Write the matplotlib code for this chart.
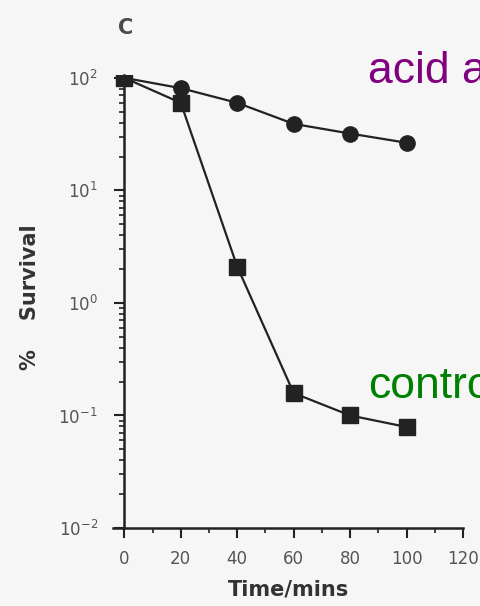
import matplotlib.pyplot as plt
import matplotlib.ticker as mticker

# data
time_mins = [0, 20, 40, 60, 80, 100]
acid_adapted = [100, 81, 60, 39, 32, 26.5]
control = [100, 60, 2.1, 0.158, 0.1, 0.079]
x_ticks = [0, 20, 40, 60, 80, 100, 120]
y_ticks = [1e-2, 1e-1, 1e0, 1e1, 1e2]
y_labels = ['$10^{-2}$', '$10^{-1}$', '$10^{0}$', '$10^{1}$', '$10^{2}$']

bg = '#f6f6f6'
ink = '#222222'
grey = '#555555'

fig = plt.figure(figsize=(4.81, 6.06), dpi=100, facecolor=bg)
ax = fig.add_axes([0.235, 0.1287, 0.7277, 0.7475])
ax.set_facecolor(bg)

ax.plot(time_mins, acid_adapted, color=ink, lw=1.6, marker='o', ms=11, zorder=3)
ax.plot(time_mins, control, color=ink, lw=1.6, marker='s', ms=11, zorder=3)

ax.set_yscale('log')
ax.set_ylim(0.01, 106)
ax.set_xlim(-4, 120)

for s in ['top', 'right']:
    ax.spines[s].set_visible(False)
ax.spines['left'].set_position(('data', 0))
ax.spines['left'].set_bounds(0.01, 106)
for s in ['left', 'bottom']:
    ax.spines[s].set_linewidth(1.8)
    ax.spines[s].set_color(ink)

ax.set_xticks(x_ticks)
ax.xaxis.set_minor_locator(mticker.MultipleLocator(10))
ax.set_yticks(y_ticks)
ax.set_yticklabels(y_labels)
ax.yaxis.set_minor_locator(mticker.LogLocator(base=10, subs=range(2, 10), numticks=20))
ax.yaxis.set_minor_formatter(mticker.NullFormatter())

ax.tick_params(axis='both', which='major', direction='out', length=7, width=1.5,
               color=ink, labelsize=12, labelcolor=grey)
ax.tick_params(axis='both', which='minor', direction='out', length=3.5, width=1.2, color=ink)
ax.tick_params(axis='x', pad=9)
ax.tick_params(axis='y', pad=12)

ax.set_xlabel('Time/mins', fontsize=15, fontweight='bold', color='#333333', labelpad=8)
fig.text(0.063, 0.51, '%    Survival', rotation=90, fontsize=15, fontweight='bold',
         color='#333333', ha='center', va='center')
fig.text(0.262, 0.953, 'C', fontsize=15, fontweight='bold', color='#4a4a4a',
         ha='center', va='center')

fig.text(368 / 481, 1 - 83 / 606, 'acid adapted', fontsize=32, color='#800080',
         family='Liberation Sans', ha='left', va='baseline')
fig.text(368 / 481, 1 - 398 / 606, 'control', fontsize=32, color='#008000',
         family='Liberation Sans', ha='left', va='baseline')

fig.savefig('out.png', dpi=100, facecolor=bg)
